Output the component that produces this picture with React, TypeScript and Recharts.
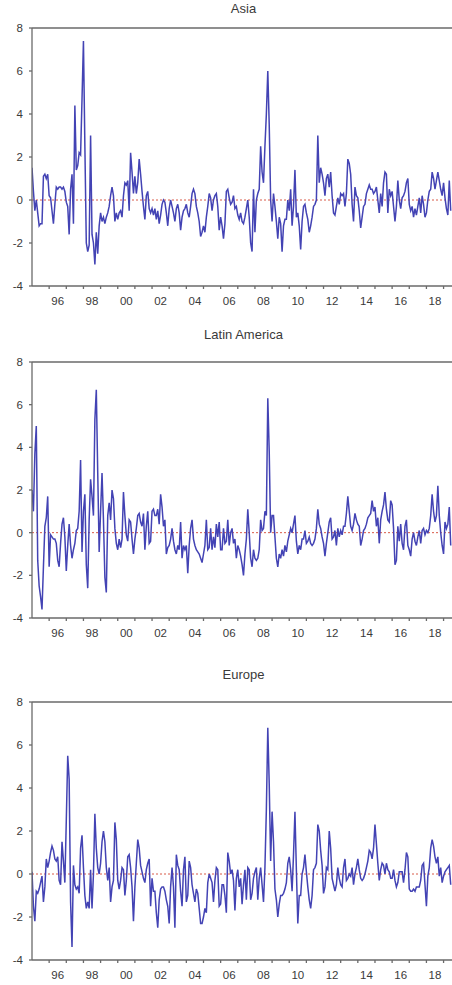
import React from "react";
import { LineChart, Line, XAxis, YAxis, ReferenceLine } from "recharts";

// monthly series, starting 1995m1
const START_YEAR = 1995;

const asia = [
  1.5, 0.4, -0.5, 0.0, -0.6, -1.2, -1.1, -1.1, 1.1, 1.2,
  1.0, 1.2, 0.2, 0.1, -0.5, -1.1, -0.2, 0.6, 0.5, 0.6,
  0.6, 0.5, 0.6, 0.4, -0.1, -0.3, -1.6, 0.5, 1.2, -1.1,
  4.4, 1.4, 1.6, 2.2, 2.1, 4.7, 7.4, 2.5, -2.0, -2.4,
  -2.1, 3.0, -1.6, -2.0, -3.0, -1.5, -2.5, -1.2, -0.6, -1.0,
  -0.8, -1.1, -0.8, -0.6, -0.3, 0.2, 0.6, 0.2, -1.0, -0.6,
  -0.9, -0.6, -0.5, -0.8, 0.2, 0.8, 0.7, 0.9, -0.5, 2.2,
  1.3, 0.3, 1.1, 0.3, 0.8, 1.9, 1.2, 0.4, -0.3, -0.9,
  0.2, 0.4, -0.4, -0.6, -0.4, -0.7, -0.4, -0.9, -0.5, -1.1,
  -0.7, -0.2, 0.0, -0.1, -0.6, -1.2, -0.4, 0.0, -0.3, -0.6,
  -1.0, -0.4, -0.2, -0.6, -1.4, -0.8, -0.5, -0.4, -0.2, -0.6,
  -0.8, -0.3, 0.3, 0.5, 0.3, -0.3, -0.6, -1.0, -1.7, -1.5,
  -1.2, -1.5, -0.8, -0.3, 0.3, 0.1, -0.5, 0.0, 0.2, 0.3,
  -0.3, -1.4, -0.8, -1.2, -1.8, -1.1, 0.4, 0.5,
  0.1, -0.2, -0.1, 0.2, -0.4, -0.3, -0.7, -0.9, -0.6, -1.0,
  -1.1, -0.8, -0.4, 0.0, -0.8, -2.0, -2.4, 0.5, -1.5, 0.0,
  0.3, 0.5, 2.5, 1.3, 0.8, 2.5, 4.0, 6.0, 3.5, 0.0,
  -1.0, 0.3, -0.3, -1.0, -1.8, -0.8, -1.1, -2.4, -1.2, -0.9,
  -0.9, 0.0, -0.5, 0.5, -1.2, -0.3, 1.4, -0.8, -0.6, -1.2,
  -2.3, -1.0, -0.3, -0.2, -0.6, -0.9, -1.5, -1.2, -0.8, -0.3,
  -0.2, 0.0, 3.0, 0.8, 1.5, 1.2, 0.8, 0.2, 1.0, 1.2,
  0.6, 1.3, 0.2, -0.6, -0.7, -0.3, 0.1, -0.2, 0.3, 0.2,
  0.3, -0.3, 0.3, 1.9, 1.7, 1.2, -0.2, -1.0, 0.6, 0.2,
  0.1, -0.5, -1.3, -0.8, -0.3, -0.2, 0.3, 0.5, 0.7, 0.5,
  0.5, 0.3, 0.4, 0.6, 0.0, -0.6, 0.3, -0.3, 0.8, 1.3,
  1.2, -0.6, 0.5, 0.2, 0.4, -0.3, -1.0, -0.3, 0.9, 0.0,
  -0.4, 0.1, 0.2, 0.4, 0.8, 1.0, -0.2, -0.5, -0.3, -0.8,
  -0.4, -0.7, -0.3, 0.1, -0.6, 0.2, -0.2, -0.8, -0.6, 0.0,
  0.4, 0.5, 1.3, 1.0, 0.5, 0.9, 1.3, 0.9, 0.5, 0.2,
  0.8, 0.1, -0.4, -0.7, 0.9, -0.5,
];

const latinAmerica = [
  2.0, 1.0, 3.7, 5.0, -1.3, -2.5, -3.0, -3.6, -1.6, 0.3,
  0.7, 1.7, -1.6, -0.1, -0.2, -0.3, -0.3, -0.5, -1.3, -1.6,
  -0.5, 0.4, 0.7, -0.2, -1.8, -0.6, 0.4, -0.6, -1.2, -0.8,
  -0.5, 0.1, 0.2, 1.0, 3.4, -0.9, 1.0, 1.8, -1.5, -2.6,
  0.6, 2.5, 1.7, 0.8, 5.3, 6.7, 2.8, -0.9, 1.0, 2.8,
  0.6, -2.1, -2.8, 0.8, 1.4, 0.6, 2.0, 1.6, 0.2, -0.5,
  -0.8, -0.3, -0.7, -0.3, 1.9, 0.8, -0.1, -0.4, 0.6, 0.5,
  -0.3, -1.0, -0.3, 0.2, 0.8, 0.9, 0.5, 0.3, 0.9, -0.8,
  0.3, 1.0, -0.5, -0.4, 1.0, 1.1, 0.8, 0.8, 1.1, 0.4,
  1.8, 1.2, 0.3, 0.6, -1.0, -0.7, -0.6, -0.3, 0.2, -0.4,
  -0.8, -1.0, -0.6, -0.8, 0.5, -1.2, -0.6, -0.8, -0.6, -1.9,
  -0.6, 0.2, 0.6, -0.3, -0.6, -0.8, -0.9, -1.0, -1.2, -1.4,
  -1.0, -0.6, 0.6, -0.8, -0.7, 0.2, -0.8, -0.2, -0.7, 0.4,
  -0.2, 0.5, -0.8, -0.8, 0.2, -0.5, -0.4, 0.6,
  -0.6, 0.0, 0.2, -0.5, -0.3, -1.2, -0.6, -0.8, -1.1, -1.5,
  -2.0, -1.0, -0.3, 1.1, 0.0, -1.2, -1.6, -0.8, -1.2, -1.3,
  -1.2, -0.8, 0.6, 0.1, 0.2, 1.0, 0.8, 6.3, 3.8, 0.0,
  0.8, 0.8, -0.2, -1.2, -1.6, -1.0, -1.2, -0.8, -1.1, -0.6,
  -0.9, -0.4, -0.1, 0.2, 0.0, 0.4, 0.8, -0.4, -1.0, -0.6,
  -0.8, -0.3, -0.3, 0.1, -0.5, -0.4, -0.2, -0.5, -0.6, -0.5,
  -0.3, 0.2, 1.1, 0.4, 0.2, -0.2, -0.5, -1.1, -0.5, 0.0,
  0.5, 0.7, -0.3, -0.2, 0.1, -0.6, 0.2, -0.2, 0.1, -0.1,
  0.3, 0.3, 0.9, 1.7, 1.0, 0.3, 0.1, 0.4, 0.9, 0.6,
  0.4, 0.3, -0.6, -0.3, 0.1, 0.2, 0.4, 0.7, 0.8, 0.9,
  1.5, 1.0, 1.2, 0.3, 0.7, -0.5, 0.6, 1.0, 1.3, 1.9,
  1.1, 0.6, 0.5, 1.5, 1.3, 0.2, -1.5, -1.3, 0.3, -0.4,
  0.4, -0.5, -0.8, 0.3, 0.6, -0.6, -0.8, -1.1, -0.3, 0.0,
  -0.4, -0.6, -0.2, 0.1, -0.5, 0.1, 0.2, -0.1, 0.1, 0.0,
  0.2, 0.8, 1.8, 1.0, 0.5, 0.8, 2.2, 0.8, 0.0, -0.6,
  -1.0, 0.5, 0.2, 0.4, 1.2, -0.6,
];

const europe = [
  0.1, -1.5, -2.2, -0.8, -0.9, -0.7, -0.4, -0.1, -1.3, -0.6,
  0.7, 0.3, 0.6, 1.0, 1.3, 1.1, 0.7, 0.6, 0.8, -0.3,
  -0.5, 1.5, 0.6, -0.4, 2.5, 5.5, 4.4, -1.3, -3.4, 0.4,
  -0.5, -0.7, -0.6, -0.9, 1.2, 1.8, 0.3, -1.0, -1.6, -1.3,
  -1.6, 0.2, -1.6, 0.0, 2.8, 1.2, 0.3, 0.0, 0.5, 1.5,
  2.0, 1.5, 0.3, -0.3, 0.3, -1.3, -0.6, -0.3, 2.4, 1.6,
  -0.3, -0.7, -0.3, 0.3, 0.2, -1.0, -0.3, 0.8, 0.9, 0.3,
  -0.6, -2.2, -0.6, 0.5, 1.6, 1.2, 0.4, 0.1, -0.2, -0.4,
  0.2, 0.5, 0.7, -1.5, -0.2, -0.8, -0.8, -1.8, -2.5, -1.2,
  -0.7, -0.6, -0.6, -0.8, -1.2, -1.5, -2.3, -0.6, 0.3, -0.6,
  -2.5, 0.9, 0.4, 0.2, -0.8, -1.5, 0.2, 0.8, -1.3, -1.0,
  0.6, 0.3, -0.5, -0.9, -1.3, -0.7, -0.9, -1.6, -2.3, -2.3,
  -2.0, -1.6, -1.8, -0.4, 0.0, -0.2, -0.4, -1.3, -0.3, 0.3,
  0.2, -1.5, -1.4, -0.5, -0.5, -1.0, -1.8, 1.0,
  0.6, 0.0, 0.2, -0.3, -1.7, -0.2, 0.2, -0.6, -0.2, -1.4,
  -0.5, 0.2, -1.2, 0.3, 0.2, -1.2, -0.9, -0.2, 0.1, 0.3,
  -1.2, -0.2, 0.3, -0.5, -1.3, 0.3, 3.0, 6.8, 4.2, 0.6,
  2.9, 1.5, -0.7, -1.2, -2.0, -1.4, -1.0, -1.0, -0.9, -0.7,
  -0.4, 0.5, 0.8, 0.2, -0.8, 0.9, 2.9, 0.2, -2.3, -1.0,
  -1.0, 0.0, 0.3, 0.9, 0.1, -0.6, -1.2, -1.6, -1.0, 0.2,
  0.3, 0.5, 2.3, 2.0, 1.1, 0.4, -0.9, -0.6, 0.3, 0.2,
  2.0, 1.2, -0.2, -0.5, -0.8, -0.5, 0.3, -0.2, -0.5, -0.6,
  0.3, 0.7, -0.3, -0.2, 0.0, -0.1, 0.3, -0.5, 0.0, 0.3,
  0.7, 0.2, -0.2, -0.3, -0.2, 0.0, 0.3, 0.6, 1.1, 1.0,
  0.7, 1.2, 2.3, 1.4, 0.5, -0.3, 0.2, 0.5, 0.4, 0.0,
  0.5, 0.2, 0.1, -0.2, -0.2, 0.2, -0.3, -0.6, -0.4, 0.1,
  0.1, 0.1, -0.4, 0.2, 1.0, 0.8, -0.7, -0.8, -0.8, -0.7,
  -0.8, -0.6, -0.6, -0.6, -0.3, 0.4, 0.5, -0.5, -1.5, -0.1,
  0.3, 1.2, 1.6, 1.3, 0.8, 0.5, 0.8, -0.1, 0.3, -0.4,
  -0.1, 0.1, 0.2, 0.3, 0.4, -0.5,
];

// year starts that get a tick mark; even years carry a label
const tickYears = [
  1996, 1997, 1998, 1999, 2000, 2001, 2002, 2003, 2004, 2005, 2006, 2007,
  2008, 2009, 2010, 2011, 2012, 2013, 2014, 2015, 2016, 2017, 2018, 2019,
];
const yTicks = [-4, -2, 0, 2, 4, 6, 8];

const data = asia.map((v, i) => ({
  t: i,
  asia: v,
  latam: latinAmerica[i],
  europe: europe[i],
}));

const X_MAX = 296;
const CHART_W = 455;
const Y_AXIS_W = 32;
const PLOT_W = CHART_W - Y_AXIS_W;
const TOP_PAD = 10;
const X_AXIS_H = 24;
const FONT = "'Liberation Sans', Arial, sans-serif";
const TEXT_COLOR = "#3a3a3a";
const AXIS_COLOR = "#6a6a6a";

const halfYear = (PLOT_W / X_MAX) * 6;

const YearTick = (props: any) => {
  const { x, y, payload } = props;
  const year = START_YEAR + payload.value / 12;
  if (year % 2 !== 0) return <g />;
  return (
    <text
      x={x + halfYear}
      y={y}
      dy="0.71em"
      textAnchor="middle"
      fontSize={11.5}
      fontFamily={FONT}
      fill={TEXT_COLOR}
    >
      {String(year).slice(2)}
    </text>
  );
};

interface PanelProps {
  title: string;
  dataKey: string;
  plotTop: number;
  plotHeight: number;
  titleY: number;
}

const Panel: React.FC<PanelProps> = ({ title, dataKey, plotTop, plotHeight, titleY }) => (
  <>
    <div
      style={{
        position: "absolute",
        left: Y_AXIS_W,
        width: PLOT_W,
        top: titleY - 8,
        lineHeight: "16px",
        textAlign: "center",
        fontFamily: FONT,
        fontSize: 13,
        color: TEXT_COLOR,
      }}
    >
      {title}
    </div>
    <div style={{ position: "absolute", left: 0, top: plotTop - TOP_PAD }}>
      <LineChart
        width={CHART_W}
        height={TOP_PAD + plotHeight + X_AXIS_H}
        data={data}
        margin={{ top: TOP_PAD, right: 0, bottom: 0, left: 0 }}
      >
        <XAxis
          dataKey="t"
          type="number"
          domain={[0, X_MAX]}
          ticks={tickYears.map((yr) => (yr - START_YEAR) * 12)}
          interval={0}
          height={X_AXIS_H}
          tickSize={3}
          tickMargin={8}
          tick={<YearTick />}
          stroke={AXIS_COLOR}
          strokeWidth={1.3}
          allowDataOverflow
        />
        <YAxis
          domain={[-4, 8]}
          ticks={yTicks}
          interval={0}
          width={Y_AXIS_W}
          tickSize={3}
          tickMargin={6}
          stroke={AXIS_COLOR}
          strokeWidth={1.3}
          tick={{ fontSize: 11.5, fill: TEXT_COLOR, fontFamily: FONT }}
          allowDataOverflow
        />
        <ReferenceLine y={8} stroke={AXIS_COLOR} strokeWidth={1.3} />
        <ReferenceLine y={0} stroke="#d85a48" strokeDasharray="2 2" />
        <Line
          type="linear"
          dataKey={dataKey}
          stroke="#4343b4"
          strokeWidth={1.5}
          dot={false}
          isAnimationActive={false}
        />
      </LineChart>
    </div>
  </>
);

export default function App() {
  return (
    <div
      style={{
        position: "absolute",
        left: 0,
        top: 0,
        width: 452,
        height: 985,
        overflow: "hidden",
        background: "#fff",
      }}
    >
      <Panel title="Asia" dataKey="asia" plotTop={28} plotHeight={258} titleY={9} />
      <Panel title="Latin America" dataKey="latam" plotTop={362} plotHeight={256} titleY={335} />
      <Panel title="Europe" dataKey="europe" plotTop={702} plotHeight={258} titleY={675} />
    </div>
  );
}
